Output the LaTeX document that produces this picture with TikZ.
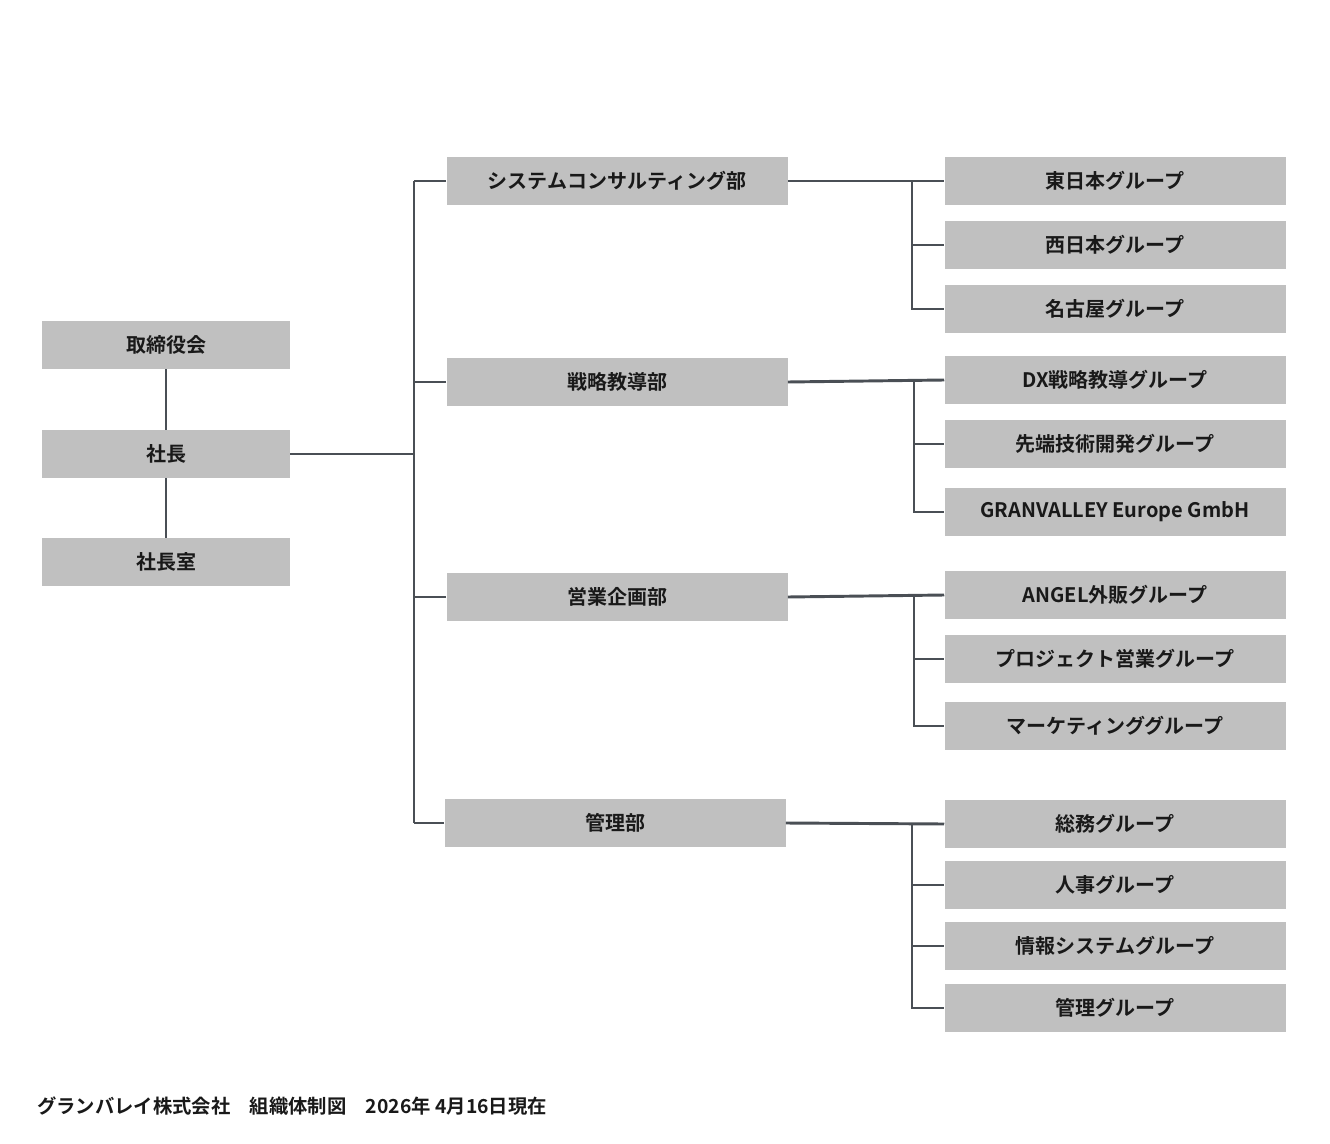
\documentclass[tikz,border=0pt]{standalone}
\usepackage{fontspec}
\newfontfamily\jp{Noto Sans CJK JP}[BoldFont={* Bold}]
\begin{document}
\begin{tikzpicture}[x=0.75pt,y=-0.75pt,
  bx/.style={fill=boxgray,inner sep=0,font=\jp\bfseries\fontsize{15}{18}\selectfont,text=black!90},
  ln/.style={draw=linegray,line width=2.2pt}]
\definecolor{boxgray}{HTML}{C0C0C0}
\definecolor{linegray}{HTML}{4A4F55}
\useasboundingbox (0,0) rectangle (1330,1144);
\newcommand\bxn[6]{\node[bx,minimum width=#4*0.75pt,minimum height=#5*0.75pt] (#1) at (#2,#3) {#6};}
% left
\bxn{b1}{166}{345}{248}{48}{取締役会}
\bxn{b2}{166}{454}{248}{48}{社長}
\bxn{b3}{166}{562}{248}{48}{社長室}
% mid
\bxn{m1}{617}{181}{341}{48}{システムコンサルティング部}
\bxn{m2}{617}{382}{341}{48}{戦略教導部}
\bxn{m3}{617}{597}{341}{48}{営業企画部}
\bxn{m4}{615}{823}{341}{48}{管理部}
% right
\bxn{r11}{1115}{181}{341}{48}{東日本グループ}
\bxn{r12}{1115}{245}{341}{48}{西日本グループ}
\bxn{r13}{1115}{309}{341}{48}{名古屋グループ}
\bxn{r21}{1115}{380}{341}{48}{DX戦略教導グループ}
\bxn{r22}{1115}{444}{341}{48}{先端技術開発グループ}
\bxn{r23}{1115}{512}{341}{48}{GRANVALLEY Europe GmbH}
\bxn{r31}{1115}{595}{341}{48}{ANGEL外販グループ}
\bxn{r32}{1115}{659}{341}{48}{プロジェクト営業グループ}
\bxn{r33}{1115}{726}{341}{48}{マーケティンググループ}
\bxn{r41}{1115}{824}{341}{48}{総務グループ}
\bxn{r42}{1115}{885}{341}{48}{人事グループ}
\bxn{r43}{1115}{946}{341}{48}{情報システムグループ}
\bxn{r44}{1115}{1008}{341}{48}{管理グループ}
% lines
\draw[ln] (b1) -- (b2);
\draw[ln] (b2) -- (b3);
\coordinate (t0) at (414,454);
\coordinate (tt) at (414,181);
\coordinate (tb) at (414,823);
\draw[ln] (b2.east) -- (t0);
\draw[ln] (tt) -- (tb);
\foreach \m in {m1,m2,m3,m4} \draw[ln] (\m.west) -- (\m.west -| tt);
% groups
\draw[ln] (m1.east) -- (r11.west);
\draw[ln] (912,181) |- (r13.west); \draw[ln] (912,245) -- (r12.west);
\draw[ln] (m2.east) -- (r21.west);
\draw[ln] (914,380) |- (r23.west); \draw[ln] (914,444) -- (r22.west);
\draw[ln] (m3.east) -- (r31.west);
\draw[ln] (914,595) |- (r33.west); \draw[ln] (914,659) -- (r32.west);
\draw[ln] (m4.east) -- (r41.west);
\draw[ln] (912,823) |- (r44.west); \draw[ln] (912,885) -- (r42.west); \draw[ln] (912,946) -- (r43.west);
\node[anchor=west,inner sep=0,font=\jp\bfseries\fontsize{14.5}{17}\selectfont,text=black!90] (ft) at (37,1106) {グランバレイ株式会社\quad 組織体制図\quad 2026年 4月16日現在};
\end{tikzpicture}
\end{document}
